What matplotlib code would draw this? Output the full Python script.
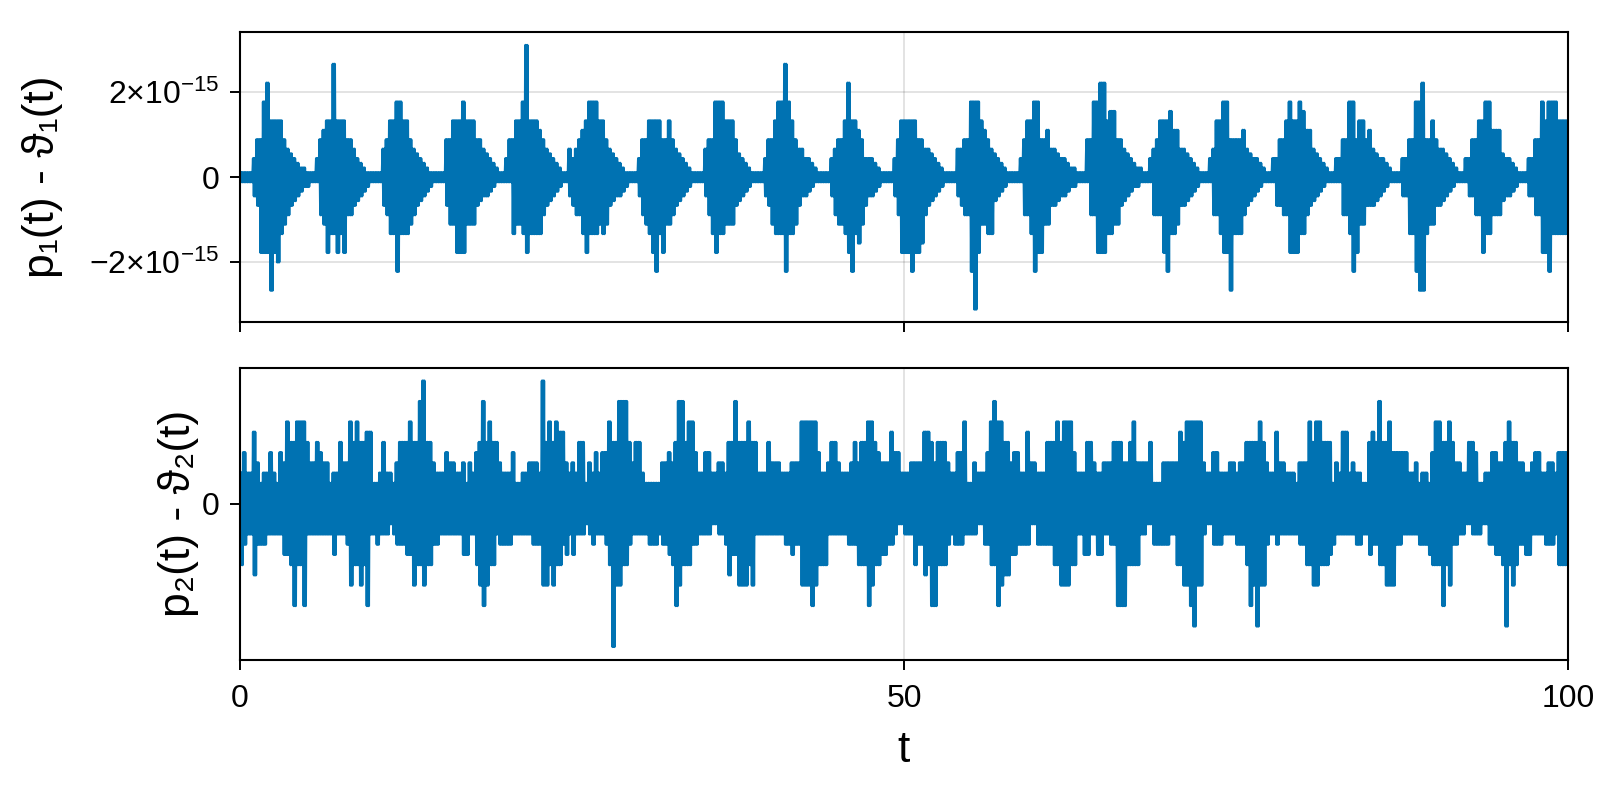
import numpy as np
import matplotlib
matplotlib.use("Agg")
import matplotlib.pyplot as plt

plt.rcParams['font.family'] = ['Liberation Sans', 'DejaVu Sans']
plt.rcParams['mathtext.fontset'] = 'custom'
plt.rcParams['mathtext.rm'] = 'Liberation Sans'
plt.rcParams['mathtext.it'] = 'Liberation Sans:italic'
plt.rcParams['mathtext.bf'] = 'Liberation Sans:bold'

# envolventes, una muestra cada 0.25 de t
# panel 1: niveles en unidades de eps/2 (base 36), panel 2: en medios pasos (hex)
p1_arriba = ("1111488gkc" "ccc8654322" "11148accoc" "cc88643211" "11168ccggc"
             "c865432111" "1188cccgcc" "c886543211" "488ccgsccc" "a865432116"
             "468acgggcc" "8654321111" "488cccc88c" "8654321111" "688gggccc8"
             "5432111148" "8cggogc866" "4432111146" "88ckcca844" "432111148c"
             "cccc886654" "3211116688" "gggca86543" "2111148ccg" "g88a665443"
             "2211188ggk" "kcee886543" "2211468ccc" "eaa6654321" "1146ccgg88"
             "88a6544321" "14488cgccg" "eaa6543211" "4488gg8cc8" "a654432111"
             "4488ggk88c" "8665432114" "488ccggaaa" "5443211144" "88gcgggcccc")
p1_abajo = ("111146gggo" "gica865432" "21118agccg" "cg88654321" "11168cckcc"
            "ca86543211" "116aagggaa" "a654432111" "11caacgccc" "c865432114"
            "688cgcccac" "a654432111" "48acgkcgaa" "8654321111" "48cgccaaa6"
            "5432111146" "accckcca64" "4321111148" "aacgkcea64" "432111148g"
            "ggkgge8654" "3211114688" "ksgaacc543" "21111188ck" "ggaa665443"
            "22111188gg" "gccaa65432" "21111888gk" "cca6654321" "11188cggoc"
            "cc86543211" "116688gggc" "c865432111" "1188ckgaa6" "6654321111"
            "44cckoocaa" "6654321111" "4488gcc888" "5443211144" "88ggkcccccc")
p2_arriba = ("3533742335" "3254866888" "6446544233" "6448686677" "2236332466"
             "6866ac6643" "3354433424" "356a686643" "3352233444" "3c68687743"
             "4366243535" "5866aaa646" "6322222445" "46aa688533" "553344366a"
             "6668663336" "4443334448" "8888533466" "4333464668" "8654447553"
             "3344447764" "6664335582" "2433358a88" "6645533744" "3336668688"
             "8533366433" "4446664468" "4444622244" "4447688888" "4335533344"
             "3446666864" "3374433324" "4486886662" "4377343322" "676a668555"
             "5533423325" "8866864433" "6652233554" "4686644334" "55334435555")
p2_abajo = ("6433744433" "333556a66a" "3333333353" "33486686a3" "3433323444"
            "5586686644" "3333333553" "368a866344" "4433333344" "4886866453"
            "5333234333" "46e8866433" "3334443445" "6a86664433" "3322334755"
            "8886833333" "3333445448" "88a8666333" "333444666a" "8665544322"
            "33364476aa" "6664344433" "33224466a8" "7755444422" "4444466888"
            "6633553355" "3344aaa666" "6332244444" "336688ac88" "3224443333"
            "4446a8c884" "3343333334" "4668866654" "3333334433" "5446688844"
            "3333344456" "66a6844332" "2333224455" "6c68644553" "33344436666")

unidad = np.finfo(float).eps / 2
azul = "#0072b2"


def niveles(cadena, base):
    return np.array([int(c, base) for c in cadena]) * unidad


# cada muestra oscila dos veces entre su maximo y su minimo
def zigzag(sup, inf):
    n = min(len(sup), len(inf))
    t = np.linspace(0, 100, n)
    dt = t[1] - t[0]
    x = np.empty(4 * n)
    y = np.empty(4 * n)
    for k in range(4):
        x[k::4] = t + k * dt / 4
    y[0::4] = sup[:n]
    y[2::4] = sup[:n]
    y[1::4] = -inf[:n]
    y[3::4] = -inf[:n]
    return x, y


x1, y1 = zigzag(niveles(p1_arriba, 36), niveles(p1_abajo, 36))
x2, y2 = zigzag(niveles(p2_arriba, 16), niveles(p2_abajo, 16))

fig = plt.figure(figsize=(16, 8), dpi=100)
ax1 = fig.add_axes([0.15, 0.5969, 0.83, 0.3631])
ax2 = fig.add_axes([0.15, 0.175, 0.83, 0.3656])

for ax, x, y in [(ax1, x1, y1), (ax2, x2, y2)]:
    ax.plot(x, y, color=azul, lw=2.0)
    ax.set_xlim(0, 100)
    m = 0.05 * (y.max() - y.min())
    ax.set_ylim(y.min() - m, y.max() + m)
    ax.set_xticks([0, 50, 100])
    ax.set_axisbelow(True)
    ax.grid(True, color="black", alpha=0.12, lw=1.3)
    for s in ax.spines.values():
        s.set_linewidth(1.5)
    ax.tick_params(length=7.5, width=1.4, labelsize=23)
    ax.tick_params(axis="y", pad=7.5)
    ax.tick_params(axis="x", pad=10)

ax1.set_yticks([-2e-15, 0, 2e-15])
ax1.set_yticklabels([r"$-2{\times}10^{-15}$", "0", r"$2{\times}10^{-15}$"])
ax1.tick_params(labelbottom=False)
ax2.set_yticks([0])
ax2.set_yticklabels(["0"])

ax1.set_ylabel("p₁(t) - ϑ₁(t)", fontsize=32)
ax1.yaxis.set_label_coords(-0.133, 0.5)
ax2.set_ylabel("p₂(t) - ϑ₂(t)", fontsize=32)
ax2.yaxis.set_label_coords(-0.031, 0.5)
ax2.set_xlabel("t", fontsize=32)
ax2.xaxis.set_label_coords(0.5, -0.239)

fig.savefig("out.png", dpi=100)
